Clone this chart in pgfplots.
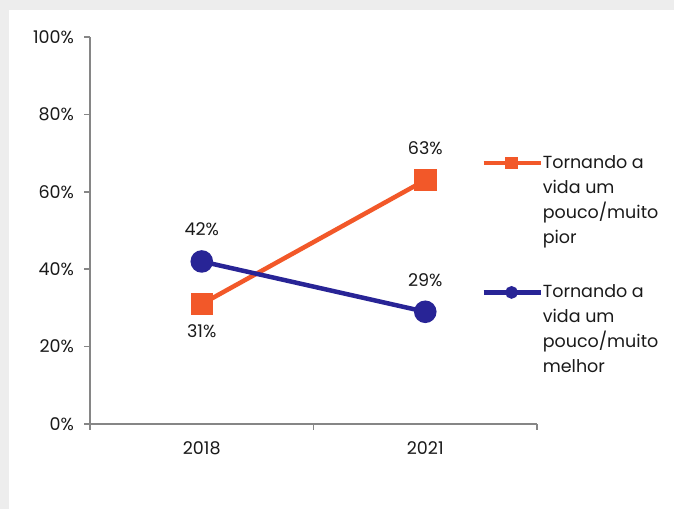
\documentclass[border=0pt]{standalone}
\usepackage{fontspec}
\setmainfont{Poppins}
\usepackage{pgfplots}
\pgfplotsset{compat=1.18}
\definecolor{orng}{RGB}{242,88,41}
\definecolor{blu}{RGB}{40,36,150}
\definecolor{axgray}{RGB}{134,134,134}
\definecolor{bggray}{RGB}{237,237,237}
\definecolor{txt}{RGB}{26,26,26}
\begin{document}
\fontsize{17.5bp}{25bp}\selectfont
\begin{tikzpicture}[x=1bp,y=1bp]
\fill[bggray] (0,0) rectangle (674,509);
\fill[white] (9,0) rectangle (674,499);
\begin{axis}[
  at={(90bp,85bp)}, anchor=south west,
  scale only axis, width=447bp, height=387bp,
  xmin=0, xmax=2, ymin=0, ymax=100,
  axis x line*=bottom, axis y line*=left,
  axis line style={axgray, line width=1.6bp, -},
  xtick={0.5,1.5}, xticklabels={2018,2021},
  major x tick style={draw=none},
  minor xtick={0,1,2},
  ytick={0,20,40,60,80,100},
  yticklabels={0\%,20\%,40\%,60\%,80\%,100\%},
  xtick pos=bottom, ytick pos=left,
  tick align=outside,
  major tick length=6bp, minor tick length=6bp,
  tick style={axgray, line width=1.6bp},
  every tick label/.append style={font=\fontsize{17.5bp}{20bp}\selectfont, text=txt},
  xticklabel style={yshift=-6bp},
  yticklabel style={xshift=-4bp},
  /pgf/number format/assume math mode=true,
  clip=false,
  legend style={draw=none, fill=none, at={(0.875,0.698)}, anchor=north west,
    inner sep=0pt, row sep=37bp, column sep=0pt,
    nodes={inner sep=1bp, inner xsep=0bp, text=txt, font=\fontsize{17.5bp}{25bp}\selectfont, xshift=-3bp},
    cells={align=left}},
  legend image code/.code={\draw[mark repeat=2,mark phase=2,#1, mark size=4bp, yshift=37.5bp] plot coordinates {(0bp,0bp) (28bp,0bp) (57bp,0bp)};},
]
\addplot[orng, line width=4.5bp, mark=square*, mark size=9bp, mark options={solid}] coordinates {(0.5,31) (1.5,63)};
\addplot[blu, line width=4.5bp, mark=*, mark size=9bp, mark options={solid}] coordinates {(0.5,42) (1.5,29)};
\legend{Tornando a\\vida um\\pouco/muito\\pior, Tornando a\\vida um\\pouco/muito\\melhor}
\addplot[draw=none, mark=none, forget plot, nodes near coords={\pgfmathprintnumber{\pgfplotspointmeta}\%},
  nodes near coords style={anchor=center, yshift=32bp, text=txt, font=\fontsize{17.5bp}{20bp}\selectfont}]
  coordinates {(1.5,63) (0.5,42) (1.5,29)};
\addplot[draw=none, mark=none, forget plot, nodes near coords={\pgfmathprintnumber{\pgfplotspointmeta}\%},
  nodes near coords style={anchor=center, yshift=-27bp, text=txt, font=\fontsize{17.5bp}{20bp}\selectfont}]
  coordinates {(0.5,31)};
\end{axis}
\end{tikzpicture}
\end{document}
